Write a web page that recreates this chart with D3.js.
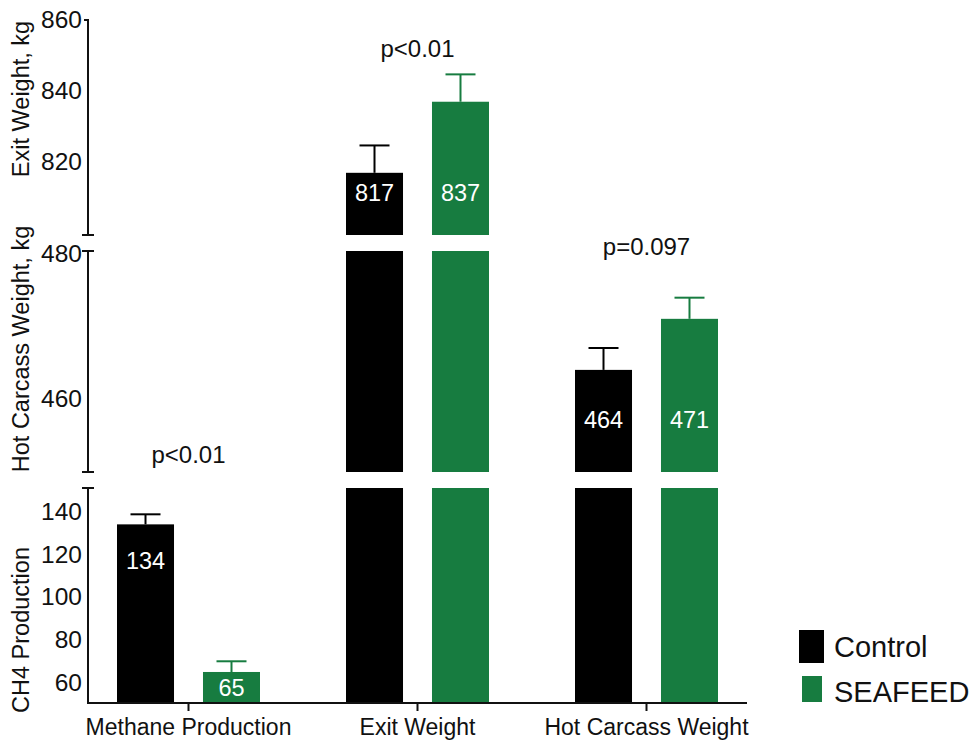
<!DOCTYPE html>
<html>
<head>
<meta charset="utf-8">
<style>
  body { margin: 0; background: #fff; }
  text { font-family: "Liberation Sans", Arial, Helvetica, sans-serif; }
</style>
</head>
<body>
<svg id="chart" width="971" height="742" viewBox="0 0 971 742" xmlns="http://www.w3.org/2000/svg"></svg>
<script src="https://d3js.org/d3.v7.min.js"></script>
<script>

// data
const groups = ["Methane Production", "Exit Weight", "Hot Carcass Weight"];
const treatments = ["Control", "SEAFEED"];
const controlMeans = [134, 817, 464];
const seafeedMeans = [65, 837, 471];
const controlSE = [4.7, 7.7, 3.0];
const seafeedSE = [5.0, 7.7, 2.9];
const pLabels = ["p<0.01", "p<0.01", "p=0.097"];

const colors = { Control: "#000000", SEAFEED: "#177c40" };

// broken y axis: three stacked panels, each with its own scale
const panels = [
  { domain: [799.5, 860], range: [235, 20], ticks: [820, 840, 860], title: "Exit Weight, kg", titleY: 99, labelY: 193 },
  { domain: [450, 480.3], range: [472, 251], ticks: [460, 480], title: "Hot Carcass Weight, kg", titleY: 349, labelY: 420 },
  { domain: [50.5, 151], range: [703, 488], ticks: [60, 80, 100, 120, 140], title: "CH4 Production", titleY: 630, labelY: null }
];
panels.forEach(p => p.y = d3.scaleLinear().domain(p.domain).range(p.range));

const homePanel = [2, 0, 1];      // which panel holds each group's bar tops
const pLabelY = [463, 57, 255];
const axisX = 88;

const svg = d3.select("#chart");

const x0 = d3.scaleBand().domain(groups).range([74, 761]);
const x1 = d3.scaleBand().domain(treatments).range([43, 186]).paddingInner(0.337);

// bars
groups.forEach((g, gi) => {
  const vals = { Control: controlMeans[gi], SEAFEED: seafeedMeans[gi] };
  const ses = { Control: controlSE[gi], SEAFEED: seafeedSE[gi] };
  const home = homePanel[gi];
  treatments.forEach(t => {
    const bx = x0(g) + x1(t);
    const bw = x1.bandwidth();
    // full bars in the panels below the home panel
    for (let pi = home; pi < panels.length; pi++) {
      const p = panels[pi];
      const top = pi === home ? p.y(vals[t]) : p.range[1];
      svg.append("rect")
        .attr("x", bx)
        .attr("y", top)
        .attr("width", bw)
        .attr("height", p.range[0] - top)
        .attr("fill", colors[t]);
    }
    const p = panels[home];
    const top = p.y(vals[t]);
    const cap = p.y(vals[t] + ses[t]);
    const cx = bx + bw / 2;
    svg.append("line")
      .attr("x1", cx).attr("x2", cx)
      .attr("y1", top).attr("y2", cap)
      .attr("stroke", colors[t]).attr("stroke-width", 2);
    svg.append("line")
      .attr("x1", cx - 15).attr("x2", cx + 15)
      .attr("y1", cap).attr("y2", cap)
      .attr("stroke", colors[t]).attr("stroke-width", 2);
    // value label inside bar
    const ly = p.labelY != null ? p.labelY : Math.min(top + 36, p.range[0] - 15);
    svg.append("text")
      .attr("x", cx)
      .attr("y", ly)
      .attr("dy", "0.35em")
      .attr("text-anchor", "middle")
      .attr("font-size", "23.5px")
      .attr("fill", "#fff")
      .text(vals[t]);
  });
  svg.append("text")
    .attr("x", x0(g) + x0.bandwidth() / 2)
    .attr("y", pLabelY[gi])
    .attr("text-anchor", "middle")
    .attr("font-size", "24px")
    .attr("fill", "#111")
    .text(pLabels[gi]);
});

// y axes
panels.forEach((p, pi) => {
  const g = svg.append("g")
    .attr("transform", `translate(${axisX},0)`)
    .call(d3.axisLeft(p.y).tickValues(p.ticks).tickSize(0).tickPadding(6).tickFormat(d3.format("d")));
  g.select(".domain").remove();
  g.selectAll("text").attr("font-size", "24.5px").attr("fill", "#111")
    .style("font-family", '"Liberation Sans", Arial, sans-serif');

  svg.append("line")
    .attr("x1", axisX).attr("x2", axisX)
    .attr("y1", p.range[0]).attr("y2", p.range[1])
    .attr("stroke", "#111").attr("stroke-width", 2);
  // caps at the breaks
  if (pi < panels.length - 1) {
    svg.append("line")
      .attr("x1", axisX - 6).attr("x2", axisX + 6)
      .attr("y1", p.range[0]).attr("y2", p.range[0])
      .attr("stroke", "#111").attr("stroke-width", 2);
  }
  svg.append("line")
    .attr("x1", pi === 0 ? axisX - 4 : axisX - 6).attr("x2", pi === 0 ? axisX + 1 : axisX + 6)
    .attr("y1", p.range[1]).attr("y2", p.range[1])
    .attr("stroke", "#111").attr("stroke-width", 2);

  svg.append("text")
    .attr("transform", `translate(29,${p.titleY}) rotate(-90)`)
    .attr("text-anchor", "middle")
    .attr("font-size", "23.5px")
    .attr("fill", "#111")
    .text(p.title);
});

// x axis
const baseY = panels[2].range[0];
svg.append("line")
  .attr("x1", axisX - 1).attr("x2", 747)
  .attr("y1", baseY).attr("y2", baseY)
  .attr("stroke", "#111").attr("stroke-width", 2);
groups.forEach(g => {
  const cx = x0(g) + x0.bandwidth() / 2;
  svg.append("line")
    .attr("x1", cx).attr("x2", cx)
    .attr("y1", baseY).attr("y2", baseY + 8)
    .attr("stroke", "#111").attr("stroke-width", 2);
  svg.append("text")
    .attr("x", cx)
    .attr("y", 735)
    .attr("text-anchor", "middle")
    .attr("font-size", "23px")
    .attr("fill", "#111")
    .text(g);
});

// legend
const legend = [
  { name: "Control", sx: 799, sy: 630, sw: 25, sh: 33, ty: 657 },
  { name: "SEAFEED", sx: 802, sy: 676, sw: 20, sh: 26, ty: 702 }
];
legend.forEach(l => {
  svg.append("rect")
    .attr("x", l.sx).attr("y", l.sy)
    .attr("width", l.sw).attr("height", l.sh)
    .attr("fill", colors[l.name]);
  svg.append("text")
    .attr("x", 834)
    .attr("y", l.ty)
    .attr("font-size", "29px")
    .attr("fill", "#111")
    .text(l.name);
});
</script>
</body>
</html>
